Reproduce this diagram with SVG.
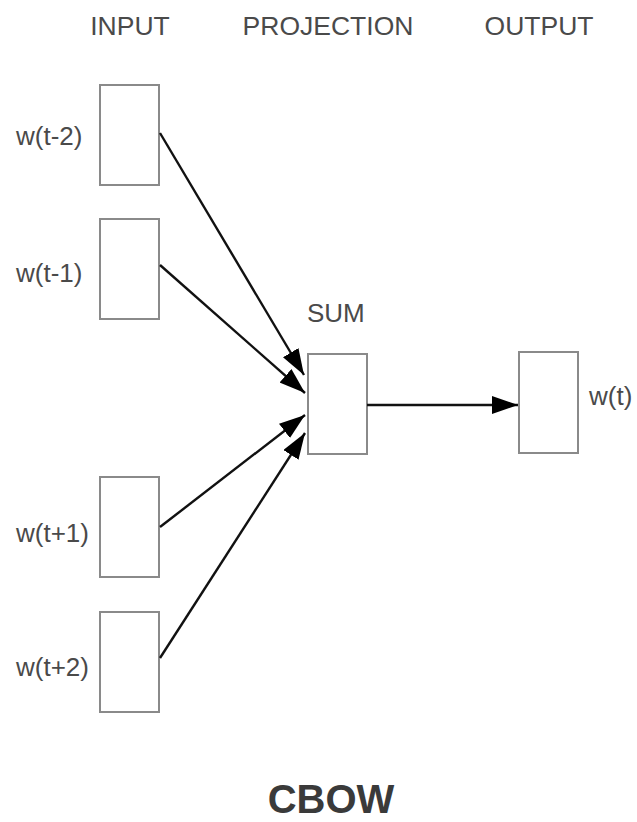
<svg xmlns="http://www.w3.org/2000/svg" width="637" height="822" viewBox="0 0 637 822">
<defs>
<style>
.box{fill:#fff;stroke:#8a8a8a;stroke-width:2}
.lbl{font-family:"Liberation Sans",Arial,sans-serif;font-size:26px;fill:#4a4a4a}
.hdr{font-family:"Liberation Sans",Arial,sans-serif;font-size:26.5px;fill:#4a4a4a;text-anchor:middle}
.title{font-family:"Liberation Sans",Arial,sans-serif;font-size:40px;font-weight:bold;fill:#3a3a3a;text-anchor:middle}
.edge{stroke:#111;stroke-width:2.4;fill:none;marker-end:url(#ah)}
</style>
<marker id="ah" markerUnits="userSpaceOnUse" markerWidth="28" markerHeight="20" refX="26" refY="9" orient="auto">
<path d="M0,0 L26,9 L0,18 z" fill="#000"/>
</marker>
</defs>
<rect width="637" height="822" fill="#fff"/>
<g id="headers">
<text class="hdr" x="130" y="35">INPUT</text>
<text class="hdr" x="328" y="35">PROJECTION</text>
<text class="hdr" x="539" y="35">OUTPUT</text>
</g>
<g id="node-wt-2">
<rect class="box" x="100" y="85" width="59" height="100"/>
<text class="lbl" x="16" y="145">w(t-2)</text>
</g>
<g id="node-wt-1">
<rect class="box" x="100" y="219" width="59" height="100"/>
<text class="lbl" x="16" y="282">w(t-1)</text>
</g>
<g id="node-wt+1">
<rect class="box" x="100" y="477" width="59" height="100"/>
<text class="lbl" x="16" y="542">w(t+1)</text>
</g>
<g id="node-wt+2">
<rect class="box" x="100" y="612" width="59" height="100"/>
<text class="lbl" x="16" y="676">w(t+2)</text>
</g>
<g id="node-sum">
<rect class="box" x="308" y="354" width="59" height="100"/>
<text class="lbl" x="307" y="322">SUM</text>
</g>
<g id="node-wt">
<rect class="box" x="519" y="352" width="59" height="101"/>
<text class="lbl" x="589" y="405">w(t)</text>
</g>
<g id="connectors">
<line class="edge" x1="160" y1="133" x2="304" y2="375"/>
<line class="edge" x1="160" y1="265" x2="305" y2="393"/>
<line class="edge" x1="160" y1="527" x2="305" y2="415"/>
<line class="edge" x1="160" y1="658" x2="305" y2="433"/>
<line class="edge" x1="367" y1="405" x2="518" y2="405"/>
</g>
<text class="title" x="331" y="813">CBOW</text>
</svg>
